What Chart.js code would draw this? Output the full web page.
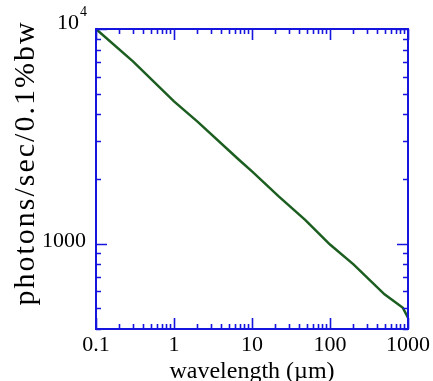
<!DOCTYPE html>
<html lang="en">
<head>
   <meta charset="UTF-8">
   <title>Photon flux vs wavelength</title>
   <script src="https://cdn.jsdelivr.net/npm/chart.js"></script>
   <style>
       body, html {
           margin: 0;
           padding: 0;
           background-color: #ffffff;
       }

       .chart-box {
           width: 433px;
           height: 381px;
       }
   </style>
</head>
<body>

   <div class="chart-box">
       <canvas id="flux-chart" width="433" height="381"></canvas>
   </div>

   <script>
    // values
    const wavelength = [0.1, 0.3, 1, 2, 6.8, 10, 22, 48, 100, 200, 500, 860, 1000];
    const photons = [10000, 7050, 4600, 3700, 2460, 2170, 1660, 1290, 990, 800, 580, 502, 452];

    const xMajorTicks = [0.1, 1, 10, 100, 1000];
    const xTickLabels = ['0.1', '1', '10', '100', '1000'];
    const yMajorTicks = [1000, 10000];
    const yMinorTicks = [400, 500, 600, 700, 800, 900, 2000, 3000, 4000, 5000, 6000, 7000, 8000, 9000];

    const axisBlue = '#1515dd';
    const lineGreen = '#1b5e20';
    const serif = "'Liberation Serif', 'DejaVu Serif', serif";

    function xMinorTicks() {
        const out = [];
        for (let d = 0.1; d < 1000; d *= 10) {
            for (let k = 2; k <= 9; k++) out.push(+(d * k).toPrecision(3));
        }
        return out;
    }

    // box, inward ticks and titles
    const frame = {
        id: 'frame',
        afterDraw(chart) {
            const ctx = chart.ctx;
            const a = chart.chartArea;
            const xs = chart.scales.x;
            const ys = chart.scales.y;
            ctx.save();
            ctx.strokeStyle = axisBlue;
            ctx.lineWidth = 2;
            ctx.strokeRect(a.left, a.top, a.right - a.left, a.bottom - a.top);

            ctx.beginPath();
            xMinorTicks().forEach(v => {
                const px = Math.round(xs.getPixelForValue(v)) + 0.5;
                ctx.moveTo(px, a.bottom); ctx.lineTo(px, a.bottom - 5);
                ctx.moveTo(px, a.top); ctx.lineTo(px, a.top + 5);
            });
            xMajorTicks.forEach(v => {
                const px = Math.round(xs.getPixelForValue(v)) + 0.5;
                ctx.moveTo(px, a.bottom); ctx.lineTo(px, a.bottom - 11);
                ctx.moveTo(px, a.top); ctx.lineTo(px, a.top + 11);
            });
            yMinorTicks.forEach(v => {
                const py = Math.round(ys.getPixelForValue(v)) + 0.5;
                ctx.moveTo(a.left, py); ctx.lineTo(a.left + 5, py);
                ctx.moveTo(a.right, py); ctx.lineTo(a.right - 5, py);
            });
            yMajorTicks.forEach(v => {
                const py = Math.round(ys.getPixelForValue(v)) + 0.5;
                ctx.moveTo(a.left, py); ctx.lineTo(a.left + 11, py);
                ctx.moveTo(a.right, py); ctx.lineTo(a.right - 11, py);
            });
            ctx.lineWidth = 1.6;
            ctx.stroke();

            // y tick labels
            ctx.fillStyle = '#000';
            ctx.textAlign = 'right';
            ctx.textBaseline = 'alphabetic';
            ctx.font = '22px ' + serif;
            const y1000 = ys.getPixelForValue(1000);
            ctx.fillText('1000', a.left - 10, y1000 + 3);
            const y10k = ys.getPixelForValue(10000);
            ctx.font = '14px ' + serif;
            ctx.fillText('4', a.left - 9, y10k - 13);
            ctx.font = '22px ' + serif;
            ctx.fillText('10', a.left - 17, y10k);

            // axis titles
            ctx.textAlign = 'center';
            ctx.font = '24px ' + serif;
            ctx.fillText('wavelength (\u00b5m)', (a.left + a.right) / 2, 378);

            ctx.translate(34, 163);
            ctx.rotate(-Math.PI / 2);
            ctx.font = '30px ' + serif;
            ctx.letterSpacing = '2px';
            ctx.fillText('photons/sec/0.1%bw', 0, 0);
            ctx.restore();
        }
    };

    const fluxChart = new Chart(document.getElementById('flux-chart'), {
        type: 'line',
        data: {
            datasets: [{
                data: wavelength.map((w, i) => ({ x: w, y: photons[i] })),
                borderColor: lineGreen,
                borderWidth: 2.5,
                pointRadius: 0,
                tension: 0
            }]
        },
        options: {
            responsive: false,
            animation: false,
            layout: { padding: { top: 29, right: 23, left: 0, bottom: 0 } },
            plugins: { legend: { display: false }, tooltip: { enabled: false } },
            scales: {
                x: {
                    type: 'logarithmic',
                    min: 0.1,
                    max: 1000,
                    grid: { display: false, drawTicks: false },
                    border: { display: false },
                    afterBuildTicks: s => { s.ticks = xMajorTicks.map(v => ({ value: v })); },
                    afterFit: s => { s.height = 52; },
                    ticks: {
                        padding: 3,
                        color: '#000',
                        maxRotation: 0,
                        font: { family: serif, size: 22 },
                        callback: (v) => xTickLabels[xMajorTicks.indexOf(v)] ?? ''
                    }
                },
                y: {
                    type: 'logarithmic',
                    min: 400,
                    max: 10000,
                    grid: { display: false, drawTicks: false },
                    border: { display: false },
                    ticks: { display: false },
                    afterFit: s => { s.width = 96; }
                }
            }
        },
        plugins: [frame]
    });
   </script>
</body>
</html>
